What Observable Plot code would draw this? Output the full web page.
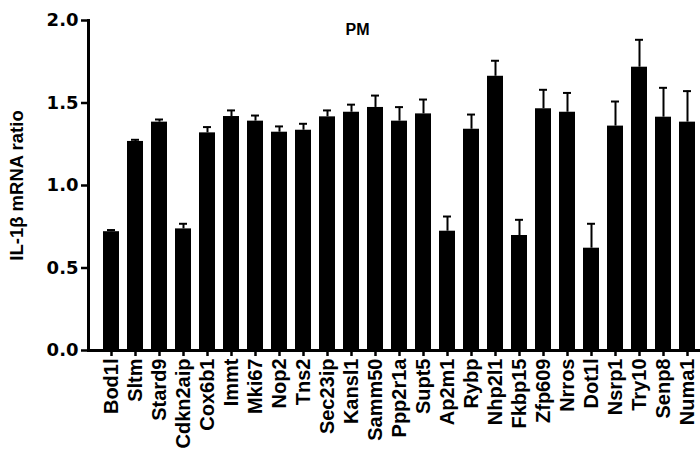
<!DOCTYPE html>
<html>
<head>
<meta charset="utf-8">
<script src="https://cdn.jsdelivr.net/npm/d3@7"></script>
<script src="https://cdn.jsdelivr.net/npm/@observablehq/plot@0.6"></script>
<style>
  html, body { margin: 0; padding: 0; background: #fff; }
  svg { display: block; }
</style>
</head>
<body>
<div id="chart"></div>
<script>
const genes = ["Bod1l","Sltm","Stard9","Cdkn2aip","Cox6b1","Immt","Mki67","Nop2","Tns2","Sec23ip","Kansl1","Samm50","Ppp2r1a","Supt5","Ap2m1","Rybp","Nhp2l1","Fkbp15","Zfp609","Nrros","Dot1l","Nsrp1","Try10","Senp8","Numa1"];
const means = [0.72,1.267,1.384,0.737,1.319,1.418,1.390,1.323,1.335,1.416,1.444,1.473,1.390,1.434,0.723,1.341,1.662,0.697,1.465,1.444,0.620,1.360,1.717,1.414,1.384];
const errs  = [0.01,0.01,0.016,0.031,0.035,0.037,0.034,0.035,0.039,0.039,0.046,0.072,0.085,0.087,0.089,0.089,0.094,0.095,0.115,0.117,0.148,0.149,0.166,0.178,0.188];
const yTicks = [0, 0.5, 1.0, 1.5, 2.0];
const title = "PM";
const yLabel = "IL-1β mRNA ratio";

const data = genes.map((g, i) => ({gene: g, mean: means[i], top: means[i] + errs[i]}));

const chart = Plot.plot({
  width: 700,
  height: 452,
  marginLeft: 88,
  marginRight: 0,
  marginTop: 20,
  marginBottom: 102,
  style: {background: "#fff", color: "#000"},
  x: {type: "band", domain: genes, padding: 0.35, range: [88.5, 709.6]},
  y: {domain: [0, 2], range: [350, 20]},
  marks: [
    Plot.barY(data, {x: "gene", y: "mean", fill: "#000"}),
    Plot.ruleX(data, {x: "gene", y1: "mean", y2: "top", stroke: "#000", strokeWidth: 2}),
    Plot.tickY(data, {x: "gene", y: "top", stroke: "#000", strokeWidth: 2, insetLeft: 4, insetRight: 4}),
    Plot.ruleY([0], {stroke: "#000", strokeWidth: 3}),
    Plot.frame({anchor: "left", stroke: "#000", strokeWidth: 3}),
    Plot.axisY({
      ticks: yTicks, tickFormat: d3.format(".1f"), tickSize: 7, tickPadding: 3,
      strokeWidth: 2.5, fontSize: 18, fontWeight: "bold", fontFamily: "DejaVu Sans",
      label: null
    }),
    Plot.axisY({
      ticks: [], label: yLabel, labelAnchor: "center", labelArrow: "none", labelOffset: 79,
      fontSize: 18.5, fontWeight: "bold", fontFamily: "Liberation Sans"
    }),
    Plot.axisX({
      tickSize: 6, tickPadding: 2, strokeWidth: 2.5, tickRotate: -90,
      fontSize: 20, fontWeight: "bold", fontFamily: "Liberation Sans", label: null
    }),
    Plot.text([title], {frameAnchor: "top-left", dx: 269, dy: 3, textAnchor: "middle",
      fontSize: 16, fontWeight: "bold", fontFamily: "Liberation Sans"})
  ]
});
document.getElementById("chart").appendChild(chart);
</script>
</body>
</html>
